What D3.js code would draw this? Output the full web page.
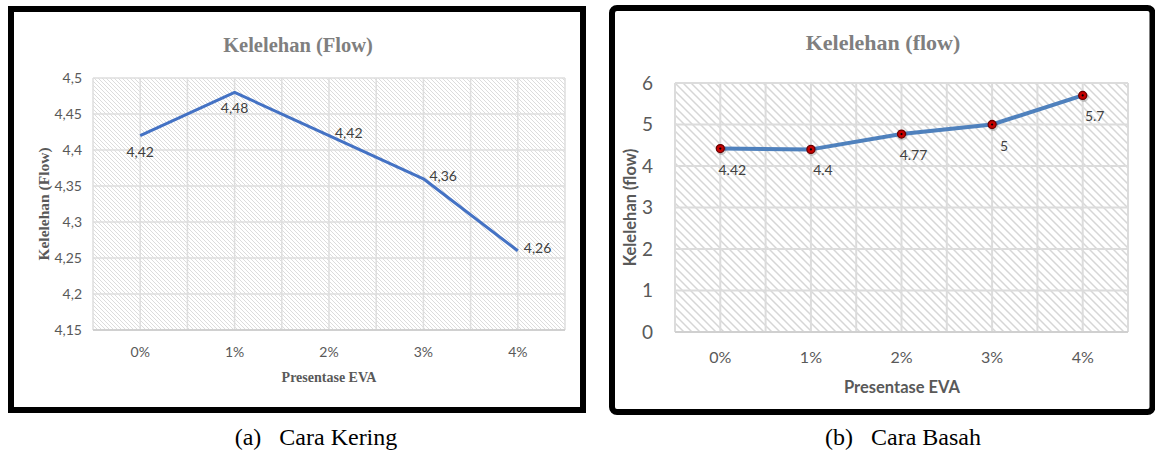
<!DOCTYPE html>
<html>
<head>
<meta charset="utf-8">
<script src="https://cdn.jsdelivr.net/npm/d3@7"></script>
<style>
	html, body { margin: 0; padding: 0; background: #fff; }
	svg { display: block; }
</style>
</head>
<body>
<svg id="chart" width="1155" height="452"></svg>
<script>
// ---- data ----
const categories = ['0%', '1%', '2%', '3%', '4%'];

// (a) Cara Kering
const valuesKering = [4.42, 4.48, 4.42, 4.36, 4.26];
const yTicksKering = [4.15, 4.2, 4.25, 4.3, 4.35, 4.4, 4.45, 4.5];
const labelSideKering = ['below', 'below', 'right', 'right', 'right'];

// (b) Cara Basah
const valuesBasah = [4.42, 4.4, 4.77, 5, 5.7];
const yTicksBasah = [0, 1, 2, 3, 4, 5, 6];
const labelSideBasah = ['belowRight', 'belowRight', 'belowRight', 'belowRight', 'belowRight'];

const titleText = ['Kelelehan (Flow)', 'Kelelehan (flow)'];
const yTitleText = ['Kelelehan (Flow)', 'Kelelehan (flow)'];
const xTitleText = 'Presentase EVA';
const captions = ['(a)\u00a0\u00a0\u00a0Cara Kering', '(b)\u00a0\u00a0\u00a0Cara Basah'];

const comma = (v) => String(v).replace('.', ',');

const svg = d3.select('#chart');
svg.append('rect').attr('width', 1155).attr('height', 452).attr('fill', '#fff');

// hatch patterns for the plot backgrounds
const defs = svg.append('defs');
const hatch = (id, size, color, width) => {
	defs.append('pattern')
		.attr('id', id)
		.attr('patternUnits', 'userSpaceOnUse')
		.attr('width', size)
		.attr('height', size)
		.append('path')
		.attr('d', `M0,0L${size},${size}M${-size / 2},${size / 2}L${size / 2},${size * 1.5}M${size / 2},${-size / 2}L${size * 1.5},${size / 2}`)
		.attr('stroke', color)
		.attr('stroke-width', width);
};
hatch('hatchA', 4, '#dcdcdc', 1);
hatch('hatchB', 8, '#d6d6d6', 1.5);

const panels = [
	{
		frame: { x: 11, y: 9, w: 572, h: 401, rx: 0 },
		plot: { left: 93, right: 565, top: 78, bottom: 330 },
		values: valuesKering,
		yTicks: yTicksKering,
		fmt: comma,
		sides: labelSideKering,
		hatch: 'url(#hatchA)',
		grid: { color: '#dedede', width: 1.5 },
		line: { color: '#4472c4', width: 3 },
		markers: false,
		title: { text: titleText[0], x: 298, y: 52, font: '"Liberation Serif", serif', size: 20.5 },
		yTitle: { text: yTitleText[0], x: 44, font: '"Liberation Serif", serif', size: 15.5, weight: 'bold' },
		xTitle: { text: xTitleText, x: 329, y: 382, font: '"Liberation Serif", serif', size: 14, weight: 'bold' },
		tickFont: { size: 14, yGap: 11, xY: 357 },
		caption: { text: captions[0], x: 316, y: 445 },
	},
	{
		frame: { x: 612, y: 8, w: 540.5, h: 404, rx: 5 },
		plot: { left: 675, right: 1128, top: 83, bottom: 332 },
		values: valuesBasah,
		yTicks: yTicksBasah,
		fmt: (v) => String(v),
		sides: labelSideBasah,
		hatch: 'url(#hatchB)',
		grid: { color: '#dcdcdc', width: 2 },
		line: { color: '#4f81bd', width: 4 },
		markers: true,
		title: { text: titleText[1], x: 883, y: 50, font: '"Liberation Serif", serif', size: 22 },
		yTitle: { text: yTitleText[1], x: 630, font: 'Lato, sans-serif', size: 16.5, weight: 'bold' },
		xTitle: { text: xTitleText, x: 902, y: 393, font: 'Lato, sans-serif', size: 16.5, weight: 'bold' },
		tickFont: { size: 18, ySize: 19, yGap: 22, xSize: 16, xY: 363 },
		caption: { text: captions[1], x: 903, y: 445 },
	},
];

const drawPanel = (p) => {
	const g = svg.append('g');
	const { plot } = p;

	const x = d3.scaleBand().domain(categories).range([plot.left, plot.right]);
	const y = d3.scaleLinear()
		.domain([p.yTicks[0], p.yTicks[p.yTicks.length - 1]])
		.range([plot.bottom, plot.top]);
	const cx = (d) => x(d) + x.bandwidth() / 2;

	// frame
	g.append('rect')
		.attr('x', p.frame.x).attr('y', p.frame.y)
		.attr('width', p.frame.w).attr('height', p.frame.h)
		.attr('rx', p.frame.rx)
		.attr('fill', '#fff')
		.attr('stroke', '#000')
		.attr('stroke-width', 6);

	// plot background
	g.append('rect')
		.attr('x', plot.left).attr('y', plot.top)
		.attr('width', plot.right - plot.left)
		.attr('height', plot.bottom - plot.top)
		.attr('fill', p.hatch);

	// grid: horizontal at ticks, vertical every half band
	g.append('g')
		.selectAll('line')
		.data(p.yTicks)
		.join('line')
		.attr('x1', plot.left).attr('x2', plot.right)
		.attr('y1', (d) => y(d)).attr('y2', (d) => y(d))
		.attr('stroke', p.grid.color)
		.attr('stroke-width', p.grid.width);

	const halfSteps = d3.range(categories.length * 2 + 1);
	g.append('g')
		.selectAll('line')
		.data(halfSteps)
		.join('line')
		.attr('x1', (i) => plot.left + (i * x.bandwidth()) / 2)
		.attr('x2', (i) => plot.left + (i * x.bandwidth()) / 2)
		.attr('y1', plot.top).attr('y2', plot.bottom)
		.attr('stroke', p.grid.color)
		.attr('stroke-width', p.grid.width);

	// bottom axis line
	g.append('line')
		.attr('x1', plot.left).attr('x2', plot.right)
		.attr('y1', plot.bottom).attr('y2', plot.bottom)
		.attr('stroke', '#d0d0d0')
		.attr('stroke-width', 2);

	// y axis labels
	const yAxis = g.append('g')
		.attr('transform', `translate(${plot.left - p.tickFont.yGap},0)`)
		.call(d3.axisLeft(y).tickValues(p.yTicks).tickFormat(p.fmt).tickSize(0).tickPadding(0));
	yAxis.select('.domain').remove();
	yAxis.selectAll('text')
		.style('font-family', 'Lato, sans-serif')
		.style('font-size', `${p.tickFont.ySize || p.tickFont.size}px`)
		.style('fill', '#595959');

	// x axis labels
	const xAxis = g.append('g')
		.attr('transform', `translate(0,${p.tickFont.xY})`)
		.call(d3.axisBottom(x).tickSize(0).tickPadding(0));
	xAxis.select('.domain').remove();
	xAxis.selectAll('text')
		.attr('dy', '0')
		.attr('y', 0)
		.style('font-family', 'Lato, sans-serif')
		.style('font-size', `${p.tickFont.xSize || p.tickFont.size}px`)
		.style('fill', '#595959');

	// line
	const line = d3.line()
		.x((d, i) => cx(categories[i]))
		.y((d) => y(d));
	g.append('path')
		.datum(p.values)
		.attr('fill', 'none')
		.attr('stroke', p.line.color)
		.attr('stroke-width', p.line.width)
		.attr('stroke-linejoin', 'round')
		.attr('d', line);

	// markers
	if (p.markers) {
		const m = g.append('g')
			.selectAll('g')
			.data(p.values)
			.join('g')
			.attr('transform', (d, i) => `translate(${cx(categories[i])},${y(d)})`);
		m.append('circle').attr('r', 5).attr('cx', 1).attr('cy', 1.5).attr('fill', 'rgba(0,0,0,0.18)');
		m.append('circle')
			.attr('r', 4)
			.attr('fill', '#c80000')
			.attr('stroke', '#6a0000')
			.attr('stroke-width', 1.3);
		m.append('circle').attr('r', 1.1).attr('fill', '#000');
	}

	// data labels
	const offsets = {
		below: { dx: 0, dy: 21, anchor: 'middle' },
		right: { dx: 6, dy: 2, anchor: 'start' },
		belowRight: { dx: 12, dy: 26, anchor: 'middle' },
	};
	g.append('g')
		.selectAll('text')
		.data(p.values)
		.join('text')
		.attr('x', (d, i) => cx(categories[i]) + offsets[p.sides[i]].dx)
		.attr('y', (d, i) => y(d) + offsets[p.sides[i]].dy)
		.attr('text-anchor', (d, i) => offsets[p.sides[i]].anchor)
		.style('font-family', 'Lato, sans-serif')
		.style('font-size', '14px')
		.style('fill', '#404040')
		.text((d) => p.fmt(d));

	// chart title
	g.append('text')
		.attr('x', p.title.x).attr('y', p.title.y)
		.attr('text-anchor', 'middle')
		.style('font-family', p.title.font)
		.style('font-size', `${p.title.size}px`)
		.style('font-weight', 'bold')
		.style('fill', '#7f7f7f')
		.text(p.title.text);

	// axis titles
	const midY = (plot.top + plot.bottom) / 2;
	g.append('text')
		.attr('transform', `translate(${p.yTitle.x},${midY}) rotate(-90)`)
		.attr('text-anchor', 'middle')
		.attr('dy', '0.35em')
		.style('font-family', p.yTitle.font)
		.style('font-size', `${p.yTitle.size}px`)
		.style('font-weight', p.yTitle.weight)
		.style('fill', '#595959')
		.text(p.yTitle.text);

	g.append('text')
		.attr('x', p.xTitle.x).attr('y', p.xTitle.y)
		.attr('text-anchor', 'middle')
		.style('font-family', p.xTitle.font)
		.style('font-size', `${p.xTitle.size}px`)
		.style('font-weight', p.xTitle.weight)
		.style('fill', '#595959')
		.text(p.xTitle.text);

	// caption under the frame
	svg.append('text')
		.attr('x', p.caption.x).attr('y', p.caption.y)
		.attr('text-anchor', 'middle')
		.style('font-family', '"Liberation Serif", serif')
		.style('font-size', '24px')
		.style('fill', '#000')
		.text(p.caption.text);
};

panels.forEach(drawPanel);
</script>
</body>
</html>
